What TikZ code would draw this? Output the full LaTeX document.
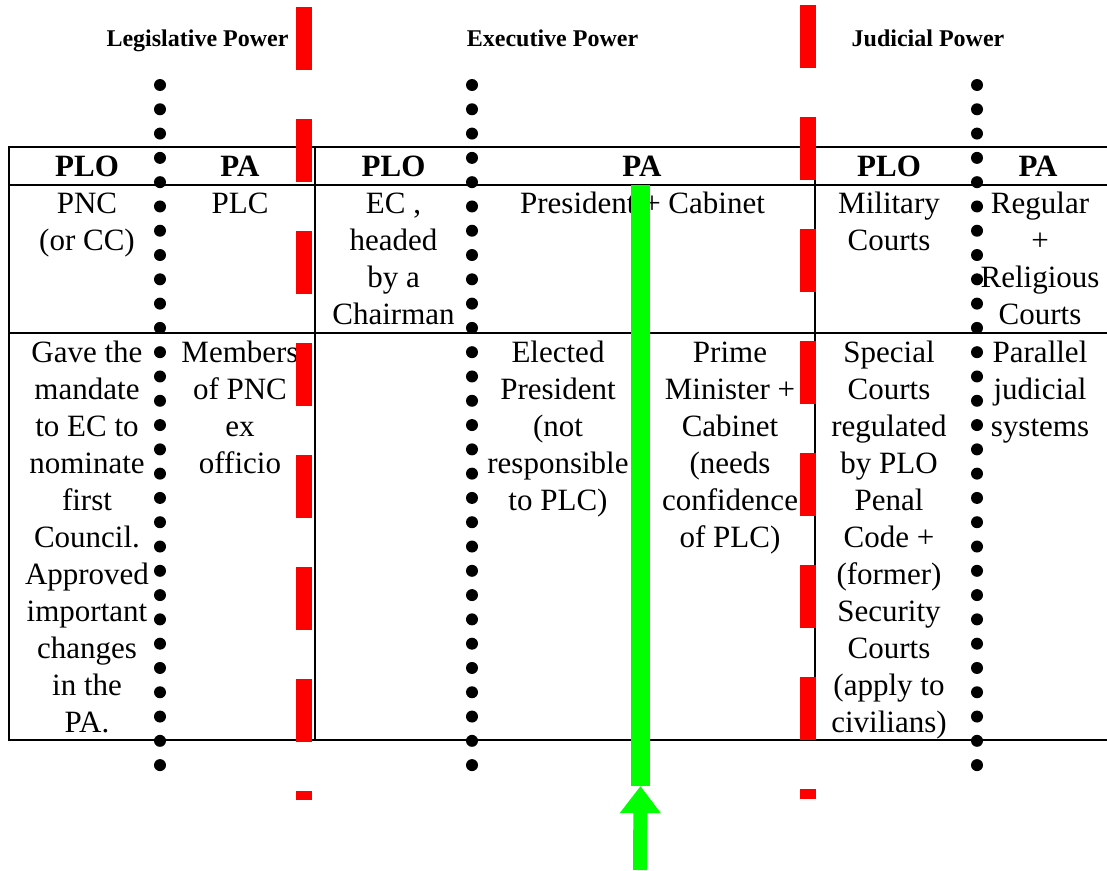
\documentclass[tikz,border=0pt]{standalone}
\usepackage{fontspec}
\setmainfont{Liberation Serif}
\usetikzlibrary{arrows.meta}
\definecolor{wallred}{RGB}{255,0,0}
\definecolor{flowgreen}{RGB}{0,255,0}
\tikzstyle{cell}=[inner sep=0pt, anchor=base, align=center, font=\fontsize{31}{37}\selectfont]
\tikzstyle{head}=[inner sep=0pt, anchor=base, font=\fontsize{31}{37}\selectfont\bfseries]
\tikzstyle{power}=[inner sep=0pt, anchor=base, font=\fontsize{24}{28}\selectfont\bfseries]
\tikzstyle{dot}=[circle, fill=black, inner sep=0pt, minimum size=12pt]
\tikzstyle{rule}=[line width=2pt]
\tikzstyle{wall}=[wallred, line width=16pt, dash pattern=on 63pt off 49pt]

\begin{document}
\begin{tikzpicture}[x=1pt, y=-1pt]
\useasboundingbox (0,0) rectangle (1107,870);
% table
\draw[rule] (1107,147) -- (9,147) -- (9,740) -- (1107,740);
\draw[rule] (9,185) -- (1107,185);
\draw[rule] (9,333) -- (1107,333);
\draw[rule] (315,147) -- (315,740);
\draw[rule] (815,147) -- (815,740);
%
\node[power] (legis) at (197.5,46) {Legislative Power};
\node[power] (exec) at (552.5,46) {Executive Power};
\node[power] (judic) at (928,46) {Judicial Power};
%
\node[head] (plo1) at (87,176) {PLO};
\node[head] (pa1) at (240,176) {PA};
\node[head] (plo2) at (393.5,176) {PLO};
\node[head] (pa2) at (642,176) {PA};
\node[head] (plo3) at (889,176) {PLO};
\node[head] (pa3) at (1038,176) {PA};
% cells sit on the baseline of their last line
\node[cell] (pnc) at (87,250) {PNC\\(or CC)};
\node[cell] (plc) at (240,213) {PLC};
\node[cell] (ec) at (393.5,324) {EC ,\\headed\\by a\\Chairman};
\node[cell] (pres) at (642.5,213) {President + Cabinet};
\node[cell] (milit) at (889,250) {Military\\Courts};
\node[cell] (regul) at (1040,324) {Regular\\+\\Religious\\Courts};
%
\node[cell] (mandate) at (87,732) {Gave the\\mandate\\to EC to\\nominate\\first\\Council.\\Approved\\important\\changes\\in the\\PA.};
\node[cell] (members) at (240,473) {Members\\of PNC\\ex\\officio};
\node[cell] (elected) at (558,510) {Elected\\President\\(not\\responsible\\to PLC)};
\node[cell] (prime) at (730,547) {Prime\\Minister +\\Cabinet\\(needs\\confidence\\of PLC)};
\node[cell] (special) at (889,732) {Special\\Courts\\regulated\\by PLO\\Penal\\Code +\\(former)\\Security\\Courts\\(apply to\\civilians)};
\node[cell] (parallel) at (1040,436) {Parallel\\judicial\\systems};
%
\foreach \col in {160,472,977}
  \foreach \k in {0,...,28}
    \node[dot] (dot\col-\k) at (\col,85+\k*24.29) {};
%
\draw[wall] (304,7) -- (304,800);
\draw[wall] (808,5) -- (808,799);
%
\coordinate (gtop) at (640.5,185);
\coordinate (gtip) at (640.5,786);
\coordinate (gtail) at (640,870);
\draw[flowgreen, line width=19pt] (gtop) -- (gtip);
\draw[flowgreen, line width=14pt, -{Triangle[length=27pt, width=39pt]}] (gtail) -- (gtip);
\end{tikzpicture}
\end{document}
